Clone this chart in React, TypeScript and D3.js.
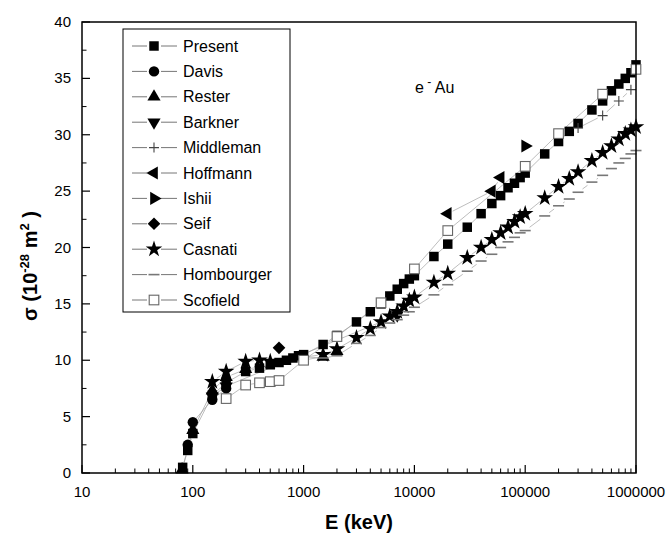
import React from "react";
import * as d3 from "d3";

// ---------- data ----------
const presentE = [81, 90, 100, 150, 200, 300, 400, 500, 600, 700, 800, 900, 1000, 1500, 2000, 3000, 4000, 5000, 6000, 7000, 8000, 9000, 10000, 15000, 20000, 30000, 40000, 50000, 60000, 70000, 80000, 90000, 100000, 150000, 200000, 250000, 300000, 400000, 500000, 600000, 700000, 800000, 900000, 1000000];
const presentS = [0.5, 2.0, 3.5, 6.9, 8.0, 9.0, 9.3, 9.6, 9.8, 10.0, 10.2, 10.4, 10.5, 11.4, 12.2, 13.4, 14.3, 15.0, 15.7, 16.3, 16.8, 17.2, 17.5, 19.2, 20.3, 21.8, 23.0, 23.9, 24.6, 25.3, 25.7, 26.2, 26.6, 28.3, 29.4, 30.3, 31.0, 32.2, 33.0, 33.9, 34.5, 35.0, 35.5, 36.2];
const davisE = [90, 100, 150, 200];
const davisS = [2.5, 4.5, 6.5, 7.5];
const resterE = [80, 100, 150, 200, 300, 1500, 2000];
const resterS = [0.3, 3.8, 7.3, 8.5, 9.2, 10.3, 10.8];
const barknerE = [150, 200, 7000];
const barknerS = [6.8, 7.7, 14.0];
const middlemanE = [300000, 500000, 700000, 900000];
const middlemanS = [30.6, 31.7, 33.0, 34.0];
const hoffmannE = [20000, 50000, 60000];
const hoffmannS = [23.0, 25.0, 26.2];
const ishiiE = [100000];
const ishiiS = [29.0];
const seifE = [600];
const seifS = [11.1];
const casnatiE = [150, 200, 300, 400, 500, 1500, 2000, 3000, 4000, 5000, 6000, 7000, 8000, 9000, 10000, 15000, 20000, 30000, 40000, 50000, 60000, 70000, 80000, 90000, 100000, 150000, 200000, 250000, 300000, 400000, 500000, 600000, 700000, 800000, 900000, 1000000];
const casnatiS = [8.1, 9.0, 9.9, 10.0, 9.9, 10.5, 11.0, 12.0, 12.8, 13.4, 13.9, 14.3, 14.8, 15.3, 15.6, 16.9, 17.7, 19.1, 20.0, 20.7, 21.3, 21.8, 22.3, 22.7, 23.0, 24.4, 25.4, 26.1, 26.7, 27.7, 28.4, 29.0, 29.6, 30.1, 30.4, 30.7];
const hombE = [1000, 1500, 2000, 3000, 4000, 5000, 6000, 7000, 8000, 9000, 10000, 15000, 20000, 30000, 40000, 50000, 60000, 70000, 80000, 90000, 100000, 150000, 200000, 250000, 300000, 400000, 500000, 600000, 700000, 800000, 900000, 1000000];
const hombS = [10.3, 10.2, 10.4, 11.5, 12.2, 12.9, 13.3, 13.6, 14.0, 14.3, 14.7, 15.8, 16.7, 17.9, 18.8, 19.4, 20.0, 20.5, 20.9, 21.3, 21.5, 22.8, 23.7, 24.3, 24.9, 25.8, 26.4, 27.0, 27.5, 27.9, 28.3, 28.6];
const scofieldE = [200, 300, 400, 500, 600, 1000, 2000, 5000, 10000, 20000, 100000, 200000, 500000, 1000000];
const scofieldS = [6.6, 7.8, 8.0, 8.1, 8.2, 10.0, 12.1, 15.1, 18.1, 21.5, 27.2, 30.1, 33.6, 35.8];

const seriesNames = ["Present", "Davis", "Rester", "Barkner", "Middleman", "Hoffmann", "Ishii", "Seif", "Casnati", "Hombourger", "Scofield"];
const seriesE = [presentE, davisE, resterE, barknerE, middlemanE, hoffmannE, ishiiE, seifE, casnatiE, hombE, scofieldE];
const seriesS = [presentS, davisS, resterS, barknerS, middlemanS, hoffmannS, ishiiS, seifS, casnatiS, hombS, scofieldS];
const seriesSymbol = ["square", "circle", "triUp", "triDown", "plus", "triLeft", "triRight", "diamond", "star", "dash", "hollow"];

const xTicks = [10, 100, 1000, 10000, 100000, 1000000];
const yTicks = [0, 5, 10, 15, 20, 25, 30, 35, 40];

// ---------- layout ----------
const W = 669, H = 536;
const L = 82, R = 636, T = 22, B = 473;
const FONT = "'Liberation Sans', Arial, sans-serif";

const x = d3.scaleLog().domain([10, 1000000]).range([L, R]);
const y = d3.scaleLinear().domain([0, 40]).range([B, T]);

function Marker({ kind, cx, cy }: { kind: string; cx: number; cy: number }) {
  const tr = `translate(${cx},${cy})`;
  switch (kind) {
    case "square":
      return <path transform={tr} d={d3.symbol(d3.symbolSquare, 90)()!} fill="#000" />;
    case "circle":
      return <path transform={tr} d={d3.symbol(d3.symbolCircle, 85)()!} fill="#000" />;
    case "triUp":
      return <path transform={`${tr}`} d={d3.symbol(d3.symbolTriangle, 75)()!} fill="#000" />;
    case "triDown":
      return <path transform={`${tr} rotate(180)`} d={d3.symbol(d3.symbolTriangle, 75)()!} fill="#000" />;
    case "triLeft":
      return <path transform={`${tr} rotate(-90)`} d={d3.symbol(d3.symbolTriangle, 75)()!} fill="#000" />;
    case "triRight":
      return <path transform={`${tr} rotate(90)`} d={d3.symbol(d3.symbolTriangle, 75)()!} fill="#000" />;
    case "diamond":
      return <path transform={`${tr} rotate(45)`} d={d3.symbol(d3.symbolSquare, 80)()!} fill="#000" />;
    case "star":
      return <path transform={tr} d={d3.symbol(d3.symbolStar, 85)()!} fill="#000" />;
    case "plus":
      return <path transform={tr} d="M-5,0H5M0,-5V5" stroke="#444" strokeWidth={1.1} fill="none" />;
    case "dash":
      return <path transform={tr} d="M-5.5,0H5.5" stroke="#777" strokeWidth={1.6} fill="none" />;
    case "hollow":
      return <rect x={cx - 4.8} y={cy - 4.8} width={9.6} height={9.6} fill="#fff" stroke="#666" strokeWidth={1.1} />;
    default:
      return null;
  }
}

function gapLines(pts: [number, number][], gap: number) {
  const segs: string[] = [];
  for (let i = 0; i < pts.length - 1; i++) {
    const [x1, y1] = pts[i];
    const [x2, y2] = pts[i + 1];
    const dx = x2 - x1, dy = y2 - y1;
    const len = Math.hypot(dx, dy);
    if (len <= 2 * gap + 0.5) continue;
    const ux = dx / len, uy = dy / len;
    segs.push(`M${x1 + ux * gap},${y1 + uy * gap}L${x2 - ux * gap},${y2 - uy * gap}`);
  }
  return segs.join("");
}

export default function App() {
  const minorX: number[] = [];
  for (let d = 10; d < 1000000; d *= 10) {
    for (let k = 2; k <= 9; k++) minorX.push(d * k);
  }
  const minorY: number[] = [];
  for (let v = 2.5; v < 40; v += 5) minorY.push(v);

  const legendX0 = 123, legendY0 = 29, legendW = 167, legendH = 283;
  const rowY = (i: number) => 46 + i * 25.4;

  return (
    <svg width={W} height={H} style={{ position: "absolute", left: 0, top: 0, background: "#fff" }} fontFamily={FONT}>
      <rect x={0} y={0} width={W} height={H} fill="#fff" />
      {/* connecting lines */}
      {seriesE.map((es, si) => {
        const pts: [number, number][] = es.map((e, i) => [x(e), y(seriesS[si][i])]);
        return (
          <path key={"l" + si} d={gapLines(pts, 5.5)} stroke="#a0a0a0" strokeWidth={0.7} fill="none" />
        );
      })}
      {/* markers */}
      {seriesE.map((es, si) => (
        <g key={"m" + si}>
          {es.map((e, i) => (
            <Marker key={i} kind={seriesSymbol[si]} cx={x(e)} cy={y(seriesS[si][i])} />
          ))}
        </g>
      ))}

      {/* frame */}
      <rect x={L} y={T} width={R - L} height={B - T} fill="none" stroke="#000" strokeWidth={1.5} />
      {/* x ticks */}
      {xTicks.map((t) => (
        <line key={"xt" + t} x1={x(t)} x2={x(t)} y1={B} y2={B - 8} stroke="#000" strokeWidth={1.2} />
      ))}
      {minorX.map((t) => (
        <line key={"xm" + t} x1={x(t)} x2={x(t)} y1={B} y2={B - 4.5} stroke="#000" strokeWidth={1} />
      ))}
      {xTicks.map((t) => (
        <text key={"xl" + t} x={x(t)} y={497} textAnchor="middle" fontSize={15} fill="#000">
          {String(t)}
        </text>
      ))}
      {/* y ticks */}
      {yTicks.map((t) => (
        <line key={"yt" + t} x1={L} x2={L + 8} y1={y(t)} y2={y(t)} stroke="#000" strokeWidth={1.2} />
      ))}
      {minorY.map((t) => (
        <line key={"ym" + t} x1={L} x2={L + 4.5} y1={y(t)} y2={y(t)} stroke="#000" strokeWidth={1} />
      ))}
      {yTicks.map((t) => (
        <text key={"yl" + t} x={71} y={y(t) + 5} textAnchor="end" fontSize={15} fill="#000">
          {String(t)}
        </text>
      ))}

      {/* axis titles */}
      <text x={359} y={529} textAnchor="middle" fontSize={20} fontWeight="bold" fill="#000">
        E (keV)
      </text>
      <text transform="translate(37,266) rotate(-90)" textAnchor="middle" fontSize={20} fontWeight="bold" fill="#000">
        <tspan>σ (10</tspan>
        <tspan fontSize={13} dy={-8}>-28</tspan>
        <tspan dy={8}> m</tspan>
        <tspan fontSize={13} dy={-8}>2</tspan>
        <tspan dy={8}> )</tspan>
      </text>

      {/* annotation */}
      <text x={415} y={93} fontSize={16} fill="#000">
        <tspan>e</tspan>
        <tspan fontSize={12} dy={-7}> -</tspan>
        <tspan dy={7}> Au</tspan>
      </text>

      {/* legend */}
      <rect x={legendX0} y={legendY0} width={legendW} height={legendH} fill="#fff" stroke="#000" strokeWidth={1} />
      {seriesNames.map((n, i) => (
        <g key={"lg" + i}>
          <line x1={132} x2={147} y1={rowY(i)} y2={rowY(i)} stroke="#666" strokeWidth={0.9} />
          <line x1={161} x2={177} y1={rowY(i)} y2={rowY(i)} stroke="#666" strokeWidth={0.9} />
          <Marker kind={seriesSymbol[i]} cx={154} cy={rowY(i)} />
          <text x={183} y={rowY(i) + 5.5} fontSize={16} fill="#000">
            {n}
          </text>
        </g>
      ))}
    </svg>
  );
}
